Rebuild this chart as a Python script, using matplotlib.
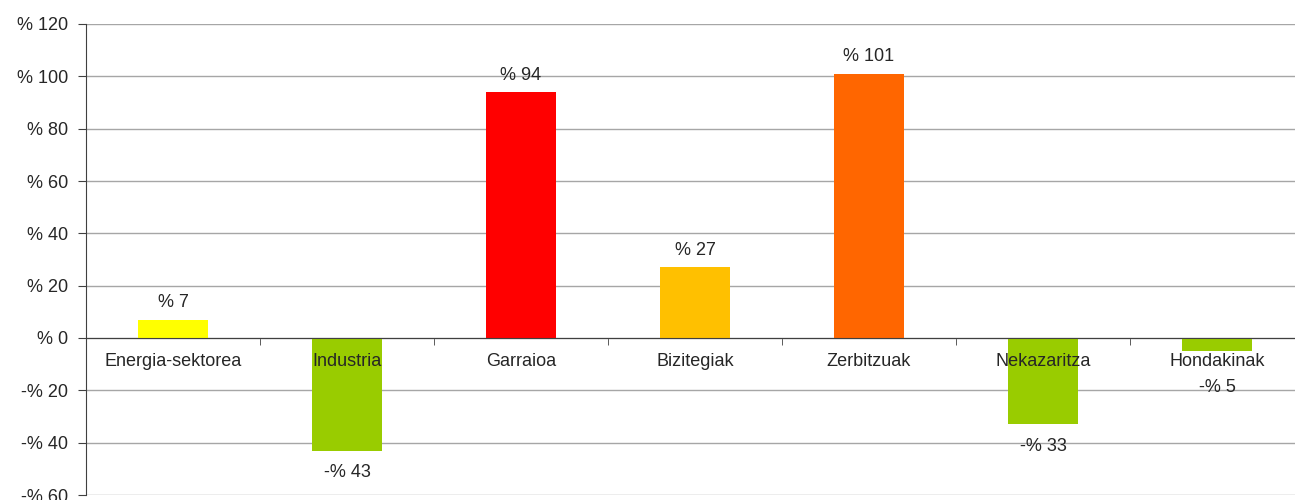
import matplotlib
matplotlib.use("Agg")
import matplotlib.pyplot as plt
from matplotlib.ticker import FixedLocator, FuncFormatter

plt.rcParams['font.family'] = ['Liberation Sans', 'DejaVu Sans']

categories = ["Energia-sektorea", "Industria", "Garraioa", "Bizitegiak",
              "Zerbitzuak", "Nekazaritza", "Hondakinak"]
values = [7, -43, 94, 27, 101, -33, -5]
colors = ["#FFFF00", "#99CC00", "#FF0000", "#FFC000", "#FF6600", "#99CC00", "#99CC00"]
yticks = [-60, -40, -20, 0, 20, 40, 60, 80, 100, 120]


def pct(v, pos=None):
    v = int(round(v))
    return f"-% {abs(v)}" if v < 0 else f"% {v}"


fig = plt.figure(figsize=(12.95, 5.0), dpi=100)
ax = fig.add_axes([86 / 1295, 5 / 500, (1304 - 86) / 1295, (495 - 24) / 500])

x = list(range(len(categories)))
ax.bar(x, values, width=0.4, color=colors, zorder=3)

txt = "#262626"
for xi, v in zip(x, values):
    if v >= 0:
        ax.annotate(pct(v), (xi, v), xytext=(0, 6), textcoords="offset points",
                    ha="center", va="bottom", fontsize=13, color=txt, zorder=6)
    else:
        # short negative bars: push the label below the category name
        off = -20 if v > -10 else -10
        ax.annotate(pct(v), (xi, v), xytext=(0, off), textcoords="offset points",
                    ha="center", va="top", fontsize=13, color=txt, zorder=6)

# category names sit just under the zero line, drawn over the bars
for xi, name in zip(x, categories):
    ax.annotate(name, (xi, 0), xytext=(0, -11), textcoords="offset points",
                ha="center", va="top", fontsize=13, color=txt, zorder=6)

ax.set_xlim(-0.5, len(categories) - 0.5)
ax.set_ylim(-60, 120)
ax.set_yticks(yticks)
ax.yaxis.set_major_formatter(FuncFormatter(pct))
ax.grid(axis="y", color="#A6A6A6", linewidth=1.0, zorder=0)
ax.set_axisbelow(True)

for s in ["top", "right"]:
    ax.spines[s].set_visible(False)
ax.spines["bottom"].set_position(("data", 0))
ax.spines["bottom"].set_color("#404040")
ax.spines["left"].set_color("#404040")
ax.spines["bottom"].set_zorder(4)

ax.set_xticks([])
ax.xaxis.set_minor_locator(FixedLocator([i + 0.5 for i in range(len(categories) - 1)]))
ax.tick_params(axis="x", which="minor", length=5, color="#404040", direction="out")
ax.tick_params(axis="y", length=6, color="#404040", pad=7, labelsize=13, labelcolor=txt)

fig.savefig("out.png", dpi=100)
